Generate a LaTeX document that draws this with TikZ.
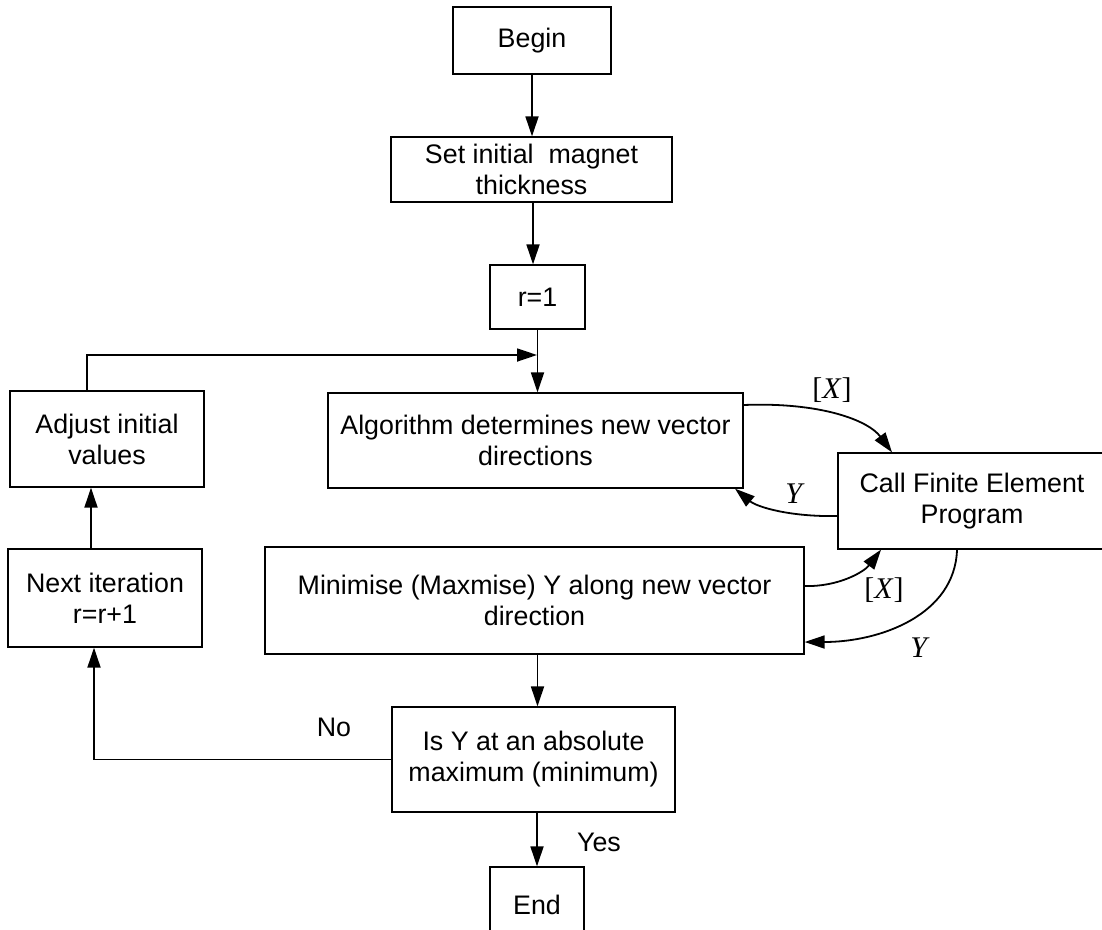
\documentclass[tikz,border=0pt]{standalone}
\usepackage{fontspec}
\setmainfont{Liberation Sans}
\newfontfamily\varfont{Liberation Serif}
\usetikzlibrary{arrows.meta}
\begin{document}
\begin{tikzpicture}[x=1pt,y=-1pt,
  box/.style={draw, line width=1.3pt, rectangle, inner sep=0pt, align=center,
    font=\fontsize{26.8}{31}\selectfont},
  flow/.style={line width=1.8pt, -{Triangle[length=20pt,width=13pt]}},
  lbl/.style={font=\fontsize{26.8}{30}\selectfont},
  var/.style={font=\varfont\fontsize{30}{32}\selectfont}]
\clip (0,0) rectangle (1102,929);
\fill[white] (0,0) rectangle (1102,929);

% main column
\node[box, minimum width=158pt, minimum height=67pt] (begin) at (532,40.5) {Begin};
\node[box, minimum width=281pt, minimum height=65pt] (set) at (531.5,169.5) {Set initial\ \ magnet\\thickness};
\node[box, minimum width=95pt, minimum height=64pt] (r1) at (537.5,297) {r=1};
\node[box, minimum width=415pt, minimum height=95pt] (alg) at (535.5,440.5) {Algorithm determines new vector\\directions};
\node[box, minimum width=539pt, minimum height=107pt] (mini) at (534.5,600.5) {Minimise (Maxmise) Y along new vector\\direction};
\node[box, minimum width=283pt, minimum height=105pt] (isy) at (533.5,759.5) {Is Y at an absolute\\maximum (minimum)};
\node[box, minimum width=94pt, minimum height=75pt] (end) at (537,904.5) {End};

% left loop
\node[box, minimum width=194pt, minimum height=96pt] (adj) at (107,439) {Adjust initial\\values};
\node[box, minimum width=194pt, minimum height=98pt] (nxt) at (105,598) {Next iteration\\r=r+1};

% finite element call
\node[box, minimum width=268pt, minimum height=96pt] (fe) at (972,501) {Call Finite Element\\Program};

\coordinate (j) at (537,355);

% straight connectors
\draw[flow] (begin.south) -- (begin.south |- set.north);
\draw[flow] (set.south -| 533,0) -- (r1.north -| 533,0);
\draw[flow] (r1.south) -- (r1.south |- alg.north);
\draw[flow] ([xshift=-20pt]adj.north) |- (j);
\draw[flow] (nxt.north -| 91,0) -- (adj.south -| 91,0);
\draw[flow] (isy.west) -| (nxt.south -| 94,0);
\draw[flow] (mini.south -| r1.south) -- (isy.north -| r1.south);
\draw[flow] (isy.south -| end.north) -- (end.north);

% exchanges with the finite element program
\draw[flow] (alg.east |- 0,405) .. controls (820,402) and (868,420) .. (fe.north -| 892,0);
\draw[flow] (fe.west |- 0,516) .. controls (790,517) and (757,507) .. (alg.south -| 735,0);
\draw[flow] (mini.east |- 0,586) .. controls (838,587) and (864,572) .. (fe.south -| 881,0);
\draw[flow] (fe.south -| 957,0) .. controls (955,615) and (880,642) .. (mini.east |- 0,642);

% labels
\node[var] (x1) at (832,390) {[\textit{X}]};
\node[var] (y1) at (795,494) {\textit{Y}};
\node[var] (x2) at (884,590) {[\textit{X}]};
\node[var] (y2) at (920,648) {\textit{Y}};
\node[lbl] (no) at (334,727) {No};
\node[lbl] (yes) at (599,842) {Yes};
\end{tikzpicture}
\end{document}
